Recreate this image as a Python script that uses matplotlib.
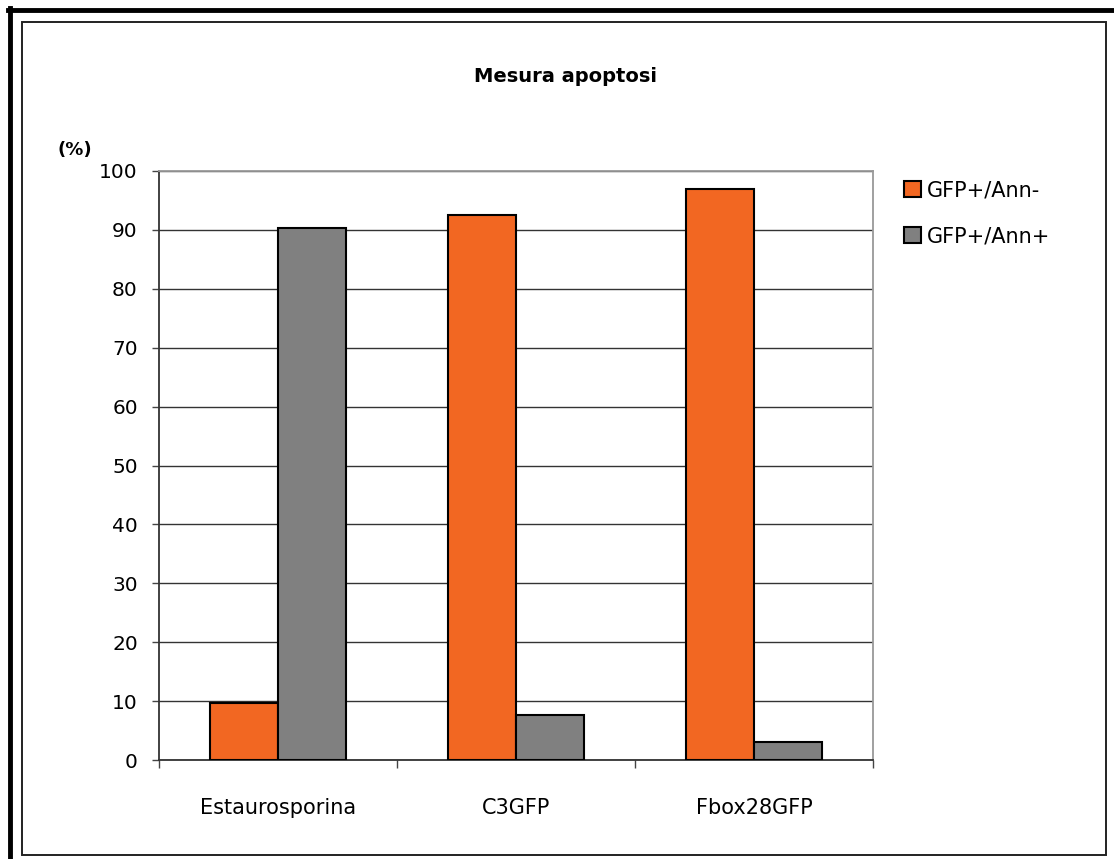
import numpy as np
import matplotlib.pyplot as plt
from matplotlib.patches import Rectangle
from matplotlib.lines import Line2D

# Chart data
categories = ["Estaurosporina", "C3GFP", "Fbox28GFP"]
ann_neg = [9.7, 92.5, 96.9]   # GFP+/Ann-
ann_pos = [90.4, 7.6, 3.1]    # GFP+/Ann+
series_labels = ["GFP+/Ann-", "GFP+/Ann+"]
yticks = [0, 10, 20, 30, 40, 50, 60, 70, 80, 90, 100]

W, H = 1114, 859
orange = "#F26722"
gray = "#808080"

fig = plt.figure(figsize=(W / 100, H / 100), dpi=100)
fig.patch.set_facecolor("white")

def px(x, y):
    return x / W, 1 - y / H

# frame lines (thick outer on top/left, thin inner box)
fig.add_artist(Line2D([10 / W, 10 / W], [0, 1 - 8 / H], color="black", lw=3.5,
                      transform=fig.transFigure))
fig.add_artist(Line2D([8 / W, 1], [1 - 10 / H, 1 - 10 / H], color="black", lw=3.5,
                      transform=fig.transFigure))
fig.add_artist(Rectangle(px(22, 855), (1106 - 22) / W, (855 - 22) / H, fill=False,
                         ec="#222222", lw=1.4, transform=fig.transFigure))

left, right, top, bottom = 158.7, 873, 171, 760
ax = fig.add_axes([left / W, 1 - bottom / H, (right - left) / W, (bottom - top) / H])

x = np.arange(len(categories))
w = 1 / 3.5
b1 = ax.bar(x - w / 2, ann_neg, w, color=orange, edgecolor="black", lw=1.5,
            label=series_labels[0], zorder=3)
b2 = ax.bar(x + w / 2, ann_pos, w, color=gray, edgecolor="black", lw=1.5,
            label=series_labels[1], zorder=3)

ax.set_xlim(-0.5, len(categories) - 0.5)
ax.set_ylim(0, 100)
ax.set_yticks(yticks)
ax.yaxis.grid(True, color="#333333", lw=1, zorder=0)
ax.set_axisbelow(True)

ax.set_xticks(x)
ax.set_xticklabels(categories, fontsize=15)
ax.set_xticks(np.arange(-0.5, len(categories), 1), minor=True)
ax.tick_params(axis="x", which="major", length=0, pad=27)
ax.tick_params(axis="x", which="minor", length=6, width=1, color="#444444", direction="out")
ax.tick_params(axis="y", length=5, width=1, color="#444444", pad=10, labelsize=14.5)

for s in ["left", "bottom"]:
    ax.spines[s].set_color("#333333")
    ax.spines[s].set_linewidth(1.3)
for s in ["top", "right"]:
    ax.spines[s].set_color("#999999")
    ax.spines[s].set_linewidth(1.3)

fig.text(565 / W, 1 - 77 / H, "Mesura apoptosi", ha="center", va="center",
         fontsize=14, fontweight="bold")
fig.text(75 / W, 1 - 150 / H, "(%)", ha="center", va="center",
         fontsize=13, fontweight="bold")

leg = ax.legend(loc="upper left", bbox_to_anchor=(904 / W, 1 - 180 / H),
                bbox_transform=fig.transFigure, frameon=False, fontsize=15,
                handlelength=0.8, handleheight=0.8, handletextpad=0.3,
                labelspacing=1.25, borderpad=0, borderaxespad=0)

fig.savefig("out.png", dpi=100)
